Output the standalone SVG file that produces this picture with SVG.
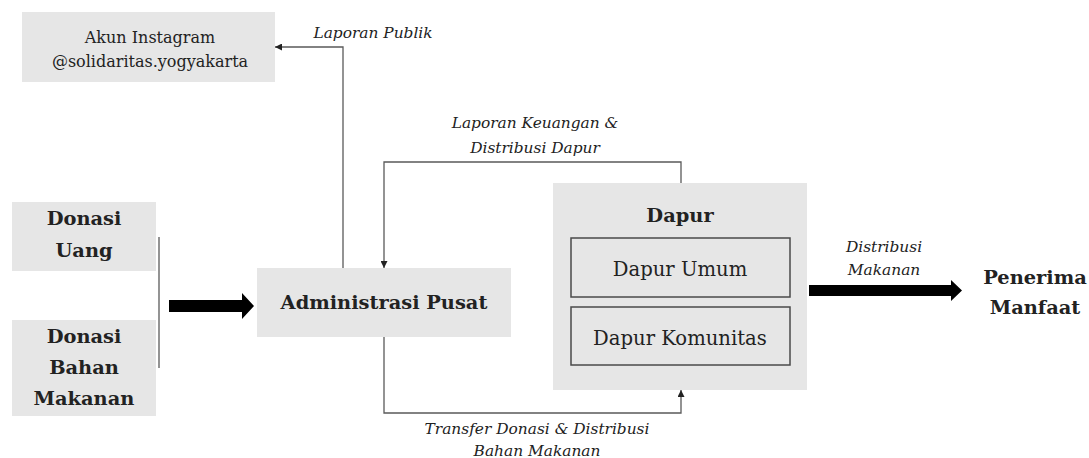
<svg xmlns="http://www.w3.org/2000/svg" width="1089" height="458" viewBox="0 0 1089 458">
<defs>
<style>
.box{fill:#e6e6e6}
.inner{fill:#e6e6e6;stroke:#4a4a4a;stroke-width:1.5}
.t{font-family:"DejaVu Serif","Liberation Serif",serif;fill:#222;text-anchor:middle}
.b{font-weight:bold;font-size:19.4px}
.r{font-size:16px}
.m{font-size:19.6px}
.i{font-style:italic;font-size:15.4px}
.ln{fill:none;stroke:#5a5a5a;stroke-width:1.3}
.big{fill:#000}
</style>
<marker id="ah" viewBox="0 0 10 10" refX="10" refY="5" markerWidth="7" markerHeight="7" markerUnits="userSpaceOnUse" orient="auto">
<path d="M0,0 L10,5 L0,10 z" fill="#222"/>
</marker>
</defs>
<rect width="1089" height="458" fill="#fff"/>
<g id="connectors">
<path class="ln" d="M343,268 V47 H275" marker-end="url(#ah)"/>
<path class="ln" d="M681,183 V162 H384 V268" marker-end="url(#ah)"/>
<path class="ln" d="M384,337 V413 H681 V390" marker-end="url(#ah)"/>
<line x1="159" y1="237" x2="159" y2="368" stroke="#5a5a5a" stroke-width="1.3"/>
<path class="big" d="M169,300 H242 V293 L254,306 L242,319 V312 H169 z"/>
<path class="big" d="M809,285 H951 V280 L962,290.5 L951,301 V296 H809 z"/>
<text class="t i" x="373" y="38">Laporan Publik</text>
<text class="t i" x="535" y="128">Laporan Keuangan &amp;</text>
<text class="t i" x="535" y="153">Distribusi Dapur</text>
<text class="t i" x="537" y="434">Transfer Donasi &amp; Distribusi</text>
<text class="t i" x="537" y="456">Bahan Makanan</text>
<text class="t i" x="884" y="252">Distribusi</text>
<text class="t i" x="884" y="275">Makanan</text>
</g>
<g id="instagram">
<rect class="box" x="22" y="12" width="253" height="70"/>
<text class="t r" x="150" y="43">Akun Instagram</text>
<text class="t r" x="150" y="67">@solidaritas.yogyakarta</text>
</g>
<g id="donasi-uang">
<rect class="box" x="12" y="202" width="144" height="69"/>
<text class="t b" x="84" y="225">Donasi</text>
<text class="t b" x="84" y="257">Uang</text>
</g>
<g id="donasi-bahan">
<rect class="box" x="12" y="320" width="144" height="96"/>
<text class="t b" x="84" y="343">Donasi</text>
<text class="t b" x="84" y="374">Bahan</text>
<text class="t b" x="84" y="405">Makanan</text>
</g>
<g id="administrasi">
<rect class="box" x="257" y="268" width="254" height="69"/>
<text class="t b" x="384" y="309">Administrasi Pusat</text>
</g>
<g id="dapur">
<rect class="box" x="553" y="183" width="254" height="207"/>
<text class="t b" x="680" y="222">Dapur</text>
</g>
<g id="dapur-umum">
<rect class="inner" x="571" y="238" width="219" height="59"/>
<text class="t m" x="680" y="276">Dapur Umum</text>
</g>
<g id="dapur-komunitas">
<rect class="inner" x="571" y="307" width="219" height="58"/>
<text class="t m" x="680" y="345">Dapur Komunitas</text>
</g>
<g id="penerima">
<text class="t b" x="1035" y="284">Penerima</text>
<text class="t b" x="1035" y="314">Manfaat</text>
</g>
</svg>
